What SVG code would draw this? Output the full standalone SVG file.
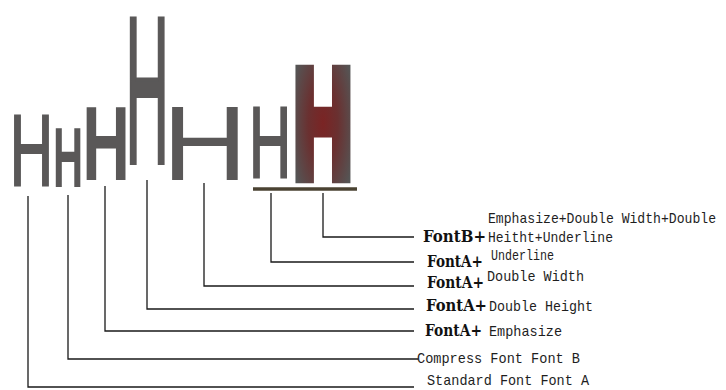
<svg xmlns="http://www.w3.org/2000/svg" width="726" height="390" viewBox="0 0 726 390">
<style>
.h{font-family:"Liberation Sans",Arial,sans-serif;font-size:100px;fill:#5a5858;stroke:#5a5858;stroke-linejoin:miter}
.hb{font-weight:bold}
.r{font-family:"Liberation Mono","Courier New",monospace;font-size:13.4px;fill:#1e1e1e}
.b{font-family:"DejaVu Serif","Liberation Serif",serif;font-weight:bold;font-size:14px;fill:#111}
.c{fill:none;stroke:#1a1a1a;stroke-width:1.3}
</style>
<defs>
<radialGradient id="red" cx="0.5" cy="0.5" r="0.55">
<stop offset="0" stop-color="#7a2424"/>
<stop offset="0.45" stop-color="#6a3030"/>
<stop offset="1" stop-color="#555"/>
</radialGradient>
</defs>
<rect width="726" height="390" fill="#fff"/>
<g id="h-standard"><text class="h" style="stroke-width:2" transform="translate(9.79,185.98) scale(0.601,1.019)">H</text></g>
<g id="h-compress"><text class="h hb" style="stroke-width:0" transform="translate(52.96,187) scale(0.417,0.852)">H</text></g>
<g id="h-emphasize"><text class="h hb" style="stroke-width:0" transform="translate(82.18,180) scale(0.66,1.061)">H</text></g>
<g id="h-double-height"><text class="h" style="stroke-width:2" transform="translate(125.5,163) scale(0.6,2.09)">H</text></g>
<g id="h-double-width"><text class="h" style="stroke-width:0" transform="translate(162.6,180) scale(1.174,1.061)">H</text></g>
<g id="h-underline"><text class="h" style="stroke-width:2" transform="translate(248.9,177.98) scale(0.584,1.019)">H</text></g>
<g id="h-fontb-all"><text class="h hb" style="stroke-width:8;fill:url(#red);stroke:url(#red)" transform="translate(293.28,176.82) scale(0.823,1.545)">H</text></g>
<g id="underline"><line x1="253" y1="189" x2="357" y2="189" stroke="#4a4232" stroke-width="3.5"/></g>
<g id="connectors">
<path class="c" d="M28,196 V387 H414"/>
<path class="c" d="M68,195 V359 H418"/>
<path class="c" d="M105,186 V331 H414"/>
<path class="c" d="M147,180 V309 H414"/>
<path class="c" d="M204,183 V286 H414"/>
<path class="c" d="M271,193 V262 H414"/>
<path class="c" d="M323,193 V237 H414"/>
</g>
<g id="label-fontb">
<text class="r" transform="translate(488,223) scale(1,1.15)" textLength="228" lengthAdjust="spacingAndGlyphs">Emphasize+Double Width+Double</text>
<text class="b" transform="translate(423,242) scale(1,1.15)" textLength="63" lengthAdjust="spacingAndGlyphs">FontB+</text>
<text class="r" transform="translate(488,242) scale(1,1.15)" textLength="125" lengthAdjust="spacingAndGlyphs">Heitht+Underline</text>
</g>
<g id="label-underline">
<text class="b" transform="translate(427,267) scale(1,1.15)" textLength="56" lengthAdjust="spacingAndGlyphs">FontA+</text>
<text class="r" transform="translate(491,260) scale(1,1.15)" textLength="63" lengthAdjust="spacingAndGlyphs">Underline</text>
</g>
<g id="label-double-width">
<text class="b" transform="translate(427,288) scale(1,1.15)" textLength="57" lengthAdjust="spacingAndGlyphs">FontA+</text>
<text class="r" transform="translate(487,281) scale(1,1.15)" textLength="97" lengthAdjust="spacingAndGlyphs">Double Width</text>
</g>
<g id="label-double-height">
<text class="b" transform="translate(426,311) scale(1,1.15)" textLength="61" lengthAdjust="spacingAndGlyphs">FontA+</text>
<text class="r" transform="translate(489,311) scale(1,1.15)" textLength="104" lengthAdjust="spacingAndGlyphs">Double Height</text>
</g>
<g id="label-emphasize">
<text class="b" transform="translate(425,336) scale(1,1.15)" textLength="57" lengthAdjust="spacingAndGlyphs">FontA+</text>
<text class="r" transform="translate(489,336) scale(1,1.15)" textLength="73" lengthAdjust="spacingAndGlyphs">Emphasize</text>
</g>
<g id="label-compress">
<text class="r" transform="translate(417,363) scale(1,1.15)" textLength="163" lengthAdjust="spacingAndGlyphs">Compress Font Font B</text>
</g>
<g id="label-standard">
<text class="r" transform="translate(427,385) scale(1,1.15)" textLength="162" lengthAdjust="spacingAndGlyphs">Standard Font Font A</text>
</g>
</svg>
